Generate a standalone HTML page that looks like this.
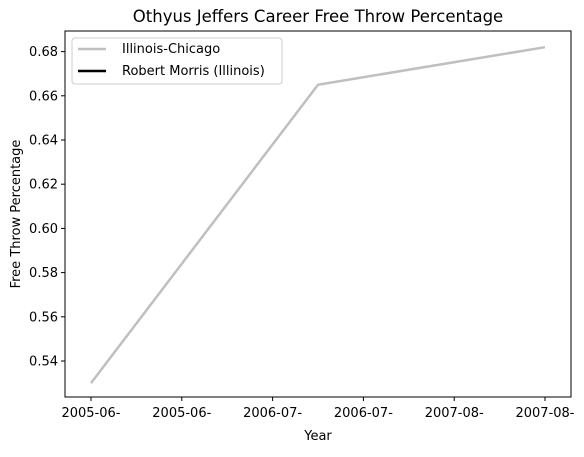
<!DOCTYPE html>
<html><head><meta charset="utf-8"><style>
body{margin:0;background:#fff;font-family:"DejaVu Sans","Liberation Sans",sans-serif;}
text{font-family:"DejaVu Sans","Liberation Sans",sans-serif;fill:#000;}
</style></head><body>
<svg id="chart" width="584" height="453" xmlns="http://www.w3.org/2000/svg">
<text x="318" y="22" font-size="16.5" text-anchor="middle">Othyus Jeffers Career Free Throw Percentage</text>
<rect x="65" y="31" width="506" height="366" fill="none" stroke="#000" stroke-width="1"/>
<g id="yticks"></g><g id="xticks"></g><g id="series"></g>
<text x="318" y="440" font-size="13" text-anchor="middle">Year</text>
<text x="20" y="214" font-size="13" text-anchor="middle" transform="rotate(-90 20 214)">Free Throw Percentage</text>
<g>
<rect x="72" y="38" width="210" height="46" rx="3" fill="#fff" stroke="#ccc"/>
<line x1="78" y1="49" x2="106" y2="49" stroke="#bfbfbf" stroke-width="2.5"/>
<text x="122" y="53" font-size="13">Illinois-Chicago</text>
<line x1="78" y1="71" x2="106" y2="71" stroke="#000" stroke-width="2.5"/>
<text x="122" y="75" font-size="13">Robert Morris (Illinois)</text>
</g>
</svg>
<script>
const xTickLabels = ["2005-06-","2005-06-","2006-07-","2006-07-","2007-08-","2007-08-"];
const yTickValues = [0.54,0.56,0.58,0.60,0.62,0.64,0.66,0.68];
const uicX = [0, 2.5, 5];
const uicY = [0.530, 0.665, 0.682];
const rmX = [];
const rmY = [];
const NS="http://www.w3.org/2000/svg";
function xs(v){return 91+v*90.8;}
function ys(v){return 361-(v-0.54)/0.02*44.2;}
function mk(tag,attrs,parent){const e=document.createElementNS(NS,tag);for(const k in attrs)e.setAttribute(k,attrs[k]);parent.appendChild(e);return e;}
const yt=document.getElementById('yticks');
yTickValues.forEach(v=>{const y=ys(v);
 const l=mk('line',{x1:61,x2:65,y1:y,y2:y,stroke:'#000'},yt);
 
 
 const t=mk('text',{x:58,y:y+4.5,'font-size':13,'text-anchor':'end'},yt);t.textContent=v.toFixed(2);
 
 });
const xt=document.getElementById('xticks');
xTickLabels.forEach((s,i)=>{const x=xs(i);
 const l=mk('line',{x1:x,x2:x,y1:397,y2:401,stroke:'#000'},xt);
 
 
 const t=mk('text',{x:x,y:417,'font-size':13,'text-anchor':'middle'},xt);t.textContent=s;
 
 });
const sg=document.getElementById('series');
function line(X,Y,color,name){if(!X.length)return;
 const p=mk('polyline',{points:X.map((x,i)=>xs(x)+','+ys(Y[i])).join(' '),fill:'none',stroke:color,'stroke-width':2.5},sg);
 
 }
line(uicX,uicY,'#bfbfbf','illinois-chicago-line');
line(rmX,rmY,'#000','robert-morris-line');
</script>
</body></html>
